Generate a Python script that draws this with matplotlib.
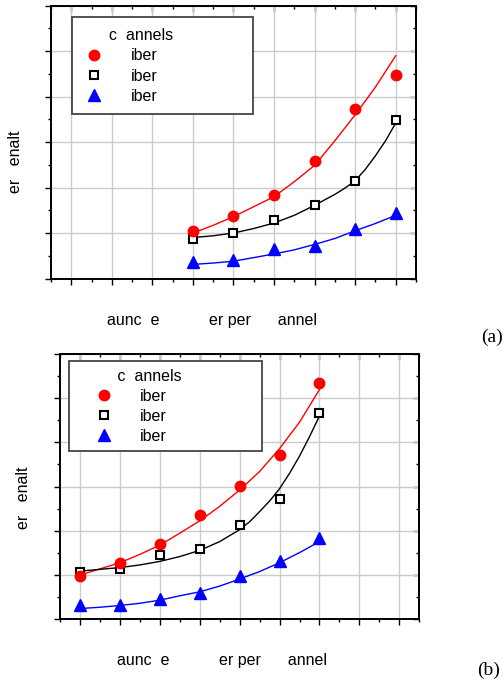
import matplotlib
matplotlib.use("Agg")
import matplotlib.pyplot as plt
from matplotlib.ticker import MultipleLocator, NullFormatter
from matplotlib.font_manager import FontProperties

# ---------------- data ----------------
legend_title = "c  annels"
series_labels = ["iber", "iber", "iber"]
y_label = "er   enalt"
x_label = "aunc  e" + " " * 11 + "er per" + " " * 6 + "annel"
panel_tags = ["(a)", "(b)"]

# panel (a)
x_a = [4, 5, 6, 7, 8, 9]
red_a = [1.05, 1.38, 1.84, 2.58, 3.72, 4.48]
black_a = [0.87, 0.99, 1.28, 1.61, 2.15, 3.48]
blue_a = [0.36, 0.40, 0.65, 0.71, 1.08, 1.44]
fit_x_a = [4, 4.5, 5, 5.5, 6, 6.5, 7, 7.5, 8, 8.5, 9]
fit_red_a = [1.00, 1.17, 1.36, 1.58, 1.80, 2.13, 2.49, 3.03, 3.60, 4.21, 4.90]
fit_blue_a = [0.31, 0.34, 0.38, 0.46, 0.54, 0.63, 0.75, 0.88, 1.05, 1.21, 1.39]
fit_xk_a = [4, 4.5, 5, 5.5, 6, 6.5, 7, 7.25, 7.5, 7.75, 8, 8.25, 8.5, 8.75, 9]
fit_black_a = [0.90, 0.94, 1.00, 1.10, 1.22, 1.39, 1.61, 1.73, 1.85, 1.99, 2.15,
               2.40, 2.70, 3.03, 3.42]

# panel (b)
x_b = [1, 2, 3, 4, 5, 6, 7]
red_b = [0.97, 1.26, 1.70, 2.36, 3.02, 3.72, 5.34]
black_b = [1.05, 1.13, 1.45, 1.58, 2.13, 2.72, 4.66]
blue_b = [0.31, 0.31, 0.45, 0.58, 0.96, 1.31, 1.83]
fit_x_b = [1, 1.5, 2, 2.5, 3, 3.5, 4, 4.5, 5, 5.5, 6, 6.5, 7]
fit_red_b = [0.99, 1.13, 1.27, 1.46, 1.67, 1.94, 2.22, 2.55, 2.92, 3.34, 3.86, 4.46, 5.20]
fit_blue_b = [0.23, 0.26, 0.30, 0.35, 0.42, 0.52, 0.61, 0.74, 0.90, 1.07, 1.27, 1.50, 1.75]
fit_xk_b = [1, 1.5, 2, 2.5, 3, 3.5, 4, 4.5, 5, 5.25, 5.5, 5.75, 6, 6.25, 6.5, 6.75, 7]
fit_black_b = [1.08, 1.12, 1.16, 1.22, 1.30, 1.41, 1.55, 1.75, 2.02, 2.20, 2.43, 2.67,
               2.95, 3.30, 3.69, 4.13, 4.60]

x_limits = (0.5, 9.5)
y_limits = (0, 6)

# ---------------- figure ----------------
W, H = 503, 684
fig = plt.figure(figsize=(W / 100, H / 100), dpi=100)
font = FontProperties(family=["Liberation Sans", "DejaVu Sans"], size=11.5)
serif = FontProperties(family=["Liberation Serif", "DejaVu Serif"], size=14)

RED, BLACK, BLUE = "#ff0000", "#000000", "#0000ff"


def px_axes(l, r, t, b):
    return fig.add_axes([l / W, 1 - b / H, (r - l) / W, (b - t) / H])


def style_axes(ax):
    ax.set_xlim(*x_limits)
    ax.set_ylim(*y_limits)
    ax.xaxis.set_major_locator(MultipleLocator(1))
    ax.xaxis.set_minor_locator(MultipleLocator(0.5))
    ax.yaxis.set_major_locator(MultipleLocator(1))
    ax.yaxis.set_minor_locator(MultipleLocator(0.5))
    ax.xaxis.set_major_formatter(NullFormatter())
    ax.yaxis.set_major_formatter(NullFormatter())
    ax.tick_params(which="both", direction="out", top=False, right=False,
                   color="black", width=1.0)
    ax.tick_params(which="major", length=4)
    ax.tick_params(which="minor", length=2)
    ax.grid(which="major", color="#cccccc", linewidth=1.0)
    ax.set_axisbelow(True)
    for s in ax.spines.values():
        s.set_linewidth(1.4)
        s.set_color("black")
    # inward ticks on top and right
    sx = ax.secondary_xaxis("top")
    sy = ax.secondary_yaxis("right")
    for sec, axis in ((sx, sx.xaxis), (sy, sy.yaxis)):
        axis.set_major_locator(MultipleLocator(1))
        axis.set_minor_locator(MultipleLocator(0.5))
        axis.set_major_formatter(NullFormatter())
        axis.set_minor_formatter(NullFormatter())
        sec.tick_params(which="both", direction="in", width=1.0, color="black")
        sec.tick_params(which="major", length=4)
        sec.tick_params(which="minor", length=2)
        for s in sec.spines.values():
            s.set_linewidth(1.4)


def draw_panel(ax, x, red, black, blue, fx, fr, fxk, fk, fb):
    ax.plot(fx, fr, color=RED, lw=1.0, zorder=2)
    ax.plot(fxk, fk, color=BLACK, lw=1.0, zorder=2)
    ax.plot(fx, fb, color=BLUE, lw=1.0, zorder=2)
    hb, = ax.plot(x, blue, linestyle="none", marker="^", ms=8.5, color=BLUE,
                  zorder=3, label=series_labels[2])
    hk, = ax.plot(x, black, linestyle="none", marker="s", ms=5.2, mfc="white",
                  mec=BLACK, mew=1.5, zorder=4, label=series_labels[1])
    hr, = ax.plot(x, red, linestyle="none", marker="o", ms=7.5, color=RED,
                  zorder=5, label=series_labels[0])
    return [hr, hk, hb]


def add_legend(ax, handles, x0, w, ytop, pad, hl, htp, ls, title):
    leg = ax.legend(handles, [h.get_label() for h in handles], title=title,
                    loc="upper left", bbox_to_anchor=(x0, 0, w, ytop),
                    mode="expand", borderaxespad=0, fancybox=False,
                    framealpha=1, edgecolor="#444444", borderpad=pad,
                    handlelength=hl, handletextpad=htp, labelspacing=ls,
                    alignment="left", prop=font, title_fontproperties=font,
                    numpoints=1)
    leg.get_frame().set_linewidth(1.3)
    leg.set_zorder(10)
    return leg


# ---- panel (a) ----
ax_a = px_axes(51, 416, 5.7, 278.5)
style_axes(ax_a)
h = draw_panel(ax_a, x_a, red_a, black_a, blue_a, fit_x_a, fit_red_a,
               fit_xk_a, fit_black_a, fit_blue_a)
add_legend(ax_a, h, 0.0567, 0.4975, 0.9575, 0.65, 1.52, 1.51, 0.34, " " * 6 + legend_title)
fig.text(107 / W, 1 - 325 / H, x_label, fontproperties=font, ha="left", va="baseline")
fig.text(19.5 / W, 1 - 193.3 / H, y_label, fontproperties=font, rotation=90,
         rotation_mode="anchor", ha="left", va="baseline")
fig.text(492 / W, 1 - 337 / H, panel_tags[0], fontproperties=serif, ha="center", va="center")

# ---- panel (b) ----
ax_b = px_axes(60, 419.3, 354.3, 618.7)
style_axes(ax_b)
h = draw_panel(ax_b, x_b, red_b, black_b, blue_b, fit_x_b, fit_red_b,
               fit_xk_b, fit_black_b, fit_blue_b)
add_legend(ax_b, h, 0.0259, 0.537, 0.9735, 0.46, 3.45, 0.51, 0.31, " " * 9 + legend_title)
fig.text(116.7 / W, 1 - 665 / H, x_label, fontproperties=font, ha="left", va="baseline")
fig.text(28.3 / W, 1 - 529.3 / H, y_label, fontproperties=font, rotation=90,
         rotation_mode="anchor", ha="left", va="baseline")
fig.text(489 / W, 1 - 670 / H, panel_tags[1], fontproperties=serif, ha="center", va="center")

fig.savefig("out.png", dpi=100)
